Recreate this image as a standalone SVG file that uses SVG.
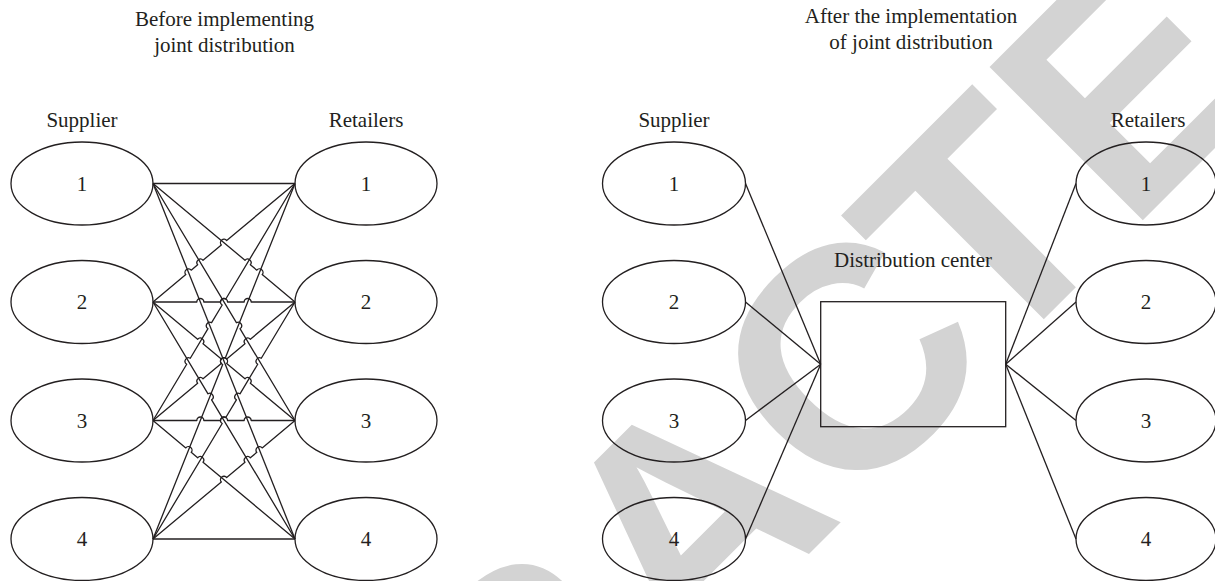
<svg xmlns="http://www.w3.org/2000/svg" width="1215" height="581" viewBox="0 0 1215 581">
  <style>
    .bg { fill: #ffffff; }
    .wm { fill: #d3d3d3; font-family: "Liberation Sans", Arial, sans-serif; font-weight: bold; font-size: 315px; }
    .node { fill: none; stroke: #231f20; stroke-width: 1.3; }
    .edge { fill: none; stroke: #231f20; stroke-width: 1.3; stroke-linejoin: round; }
    .lbl { fill: #231f20; font-family: "Liberation Serif", "Times New Roman", serif; font-size: 21px; text-anchor: middle; }
  </style>

  <rect class="bg" x="0" y="0" width="1215" height="581"/>

  <!-- diagonal stamp behind the drawing (glyphs placed along the rotated baseline) -->
  <text class="wm" transform="rotate(-45)" y="963.8" x="-853.5 -626.1 -416 -223.5 6 231 438.8 631.3 841.4">RETRACTED</text>

  <!-- headings -->
  <g id="titles">
    <text class="lbl" x="224.5" y="26">Before implementing</text>
    <text class="lbl" x="224.5" y="51.5">joint distribution</text>
    <text class="lbl" x="911" y="23">After the implementation</text>
    <text class="lbl" x="911" y="48.5">of joint distribution</text>
    <text class="lbl" x="82" y="126.7">Supplier</text>
    <text class="lbl" x="366" y="126.7">Retailers</text>
    <text class="lbl" x="674" y="126.7">Supplier</text>
    <text class="lbl" x="1148" y="126.7">Retailers</text>
  </g>

  <!-- connectors: every supplier to every retailer (with line jumps), and via the centre -->
  <g id="connectors">
    <path class="edge" d="M153,183.5 L295,183.5"/>
    <path class="edge" d="M153,183.5 L244.98,260.26 A3.5,3.5 0 0 1 250.35,264.74 L256.81,270.13 A3.5,3.5 0 0 1 262.19,274.62 L295,302"/>
    <path class="edge" d="M153,183.5 L236.4,322.7 A3.5,3.5 0 0 1 240,328.7 L295,420.5"/>
    <path class="edge" d="M153,183.5 L295,539"/>

    <path class="edge" d="M153,302 L185.81,274.62 A3.5,3.5 0 0 1 191.19,270.13 L197.65,264.74 A3.5,3.5 0 0 1 203.02,260.26 L221.31,244.99 A3.5,3.5 0 0 1 226.69,240.51 L295,183.5"/>
    <path class="edge" d="M153,302 L196.83,302 A3.5,3.5 0 0 1 203.83,302 L220.5,302 A3.5,3.5 0 0 1 227.5,302 L244.17,302 A3.5,3.5 0 0 1 251.17,302 L295,302"/>
    <path class="edge" d="M153,302 L197.65,339.26 A3.5,3.5 0 0 1 203.02,343.74 L221.31,359.01 A3.5,3.5 0 0 1 226.69,363.49 L244.98,378.76 A3.5,3.5 0 0 1 250.35,383.24 L295,420.5"/>
    <path class="edge" d="M153,302 L208,393.8 A3.5,3.5 0 0 1 211.6,399.8 L295,539"/>

    <path class="edge" d="M153,420.5 L186.7,364.25 A3.5,3.5 0 0 1 190.3,358.25 L208,328.7 A3.5,3.5 0 0 1 211.6,322.7 L222.2,305 A3.5,3.5 0 0 1 225.8,299 L295,183.5"/>
    <path class="edge" d="M153,420.5 L197.65,383.24 A3.5,3.5 0 0 1 203.02,378.76 L221.31,363.49 A3.5,3.5 0 0 1 226.69,359.01 L244.98,343.74 A3.5,3.5 0 0 1 250.35,339.26 L295,302"/>
    <path class="edge" d="M153,420.5 L196.83,420.5 A3.5,3.5 0 0 1 203.83,420.5 L220.5,420.5 A3.5,3.5 0 0 1 227.5,420.5 L244.17,420.5 A3.5,3.5 0 0 1 251.17,420.5 L295,420.5"/>
    <path class="edge" d="M153,420.5 L185.81,447.88 A3.5,3.5 0 0 1 191.19,452.37 L197.65,457.76 A3.5,3.5 0 0 1 203.02,462.24 L295,539"/>

    <path class="edge" d="M153,539 L222.7,364.5 A3.5,3.5 0 0 1 225.3,358 L295,183.5"/>
    <path class="edge" d="M153,539 L222.2,423.5 A3.5,3.5 0 0 1 225.8,417.5 L236.4,399.8 A3.5,3.5 0 0 1 240,393.8 L257.7,364.25 A3.5,3.5 0 0 1 261.3,358.25 L295,302"/>
    <path class="edge" d="M153,539 L221.31,481.99 A3.5,3.5 0 0 1 226.69,477.51 L244.98,462.24 A3.5,3.5 0 0 1 250.35,457.76 L256.81,452.37 A3.5,3.5 0 0 1 262.19,447.88 L295,420.5"/>
    <path class="edge" d="M153,539 L295,539"/>

    <path class="edge" d="M745.5,183.5 L820.7,364.2"/>
    <path class="edge" d="M745.5,302 L820.7,364.2"/>
    <path class="edge" d="M745.5,420.5 L820.7,364.2"/>
    <path class="edge" d="M745.5,539 L820.7,364.2"/>
    <path class="edge" d="M1005.7,364.2 L1076,183.5"/>
    <path class="edge" d="M1005.7,364.2 L1076,302"/>
    <path class="edge" d="M1005.7,364.2 L1076,420.5"/>
    <path class="edge" d="M1005.7,364.2 L1076,539"/>
  </g>

  <!-- before: suppliers -->
  <g id="before-supplier-1"><ellipse class="node" cx="82" cy="183.5" rx="71" ry="41.5"/><text class="lbl" x="82" y="190.5">1</text></g>
  <g id="before-supplier-2"><ellipse class="node" cx="82" cy="302" rx="71" ry="41.5"/><text class="lbl" x="82" y="309">2</text></g>
  <g id="before-supplier-3"><ellipse class="node" cx="82" cy="420.5" rx="71" ry="41.5"/><text class="lbl" x="82" y="427.5">3</text></g>
  <g id="before-supplier-4"><ellipse class="node" cx="82" cy="539" rx="71" ry="41.5"/><text class="lbl" x="82" y="546">4</text></g>

  <!-- before: retailers -->
  <g id="before-retailer-1"><ellipse class="node" cx="366" cy="183.5" rx="71" ry="41.5"/><text class="lbl" x="366" y="190.5">1</text></g>
  <g id="before-retailer-2"><ellipse class="node" cx="366" cy="302" rx="71" ry="41.5"/><text class="lbl" x="366" y="309">2</text></g>
  <g id="before-retailer-3"><ellipse class="node" cx="366" cy="420.5" rx="71" ry="41.5"/><text class="lbl" x="366" y="427.5">3</text></g>
  <g id="before-retailer-4"><ellipse class="node" cx="366" cy="539" rx="71" ry="41.5"/><text class="lbl" x="366" y="546">4</text></g>

  <!-- after: suppliers -->
  <g id="after-supplier-1"><ellipse class="node" cx="674" cy="183.5" rx="71.5" ry="41.5"/><text class="lbl" x="674" y="190.5">1</text></g>
  <g id="after-supplier-2"><ellipse class="node" cx="674" cy="302" rx="71.5" ry="41.5"/><text class="lbl" x="674" y="309">2</text></g>
  <g id="after-supplier-3"><ellipse class="node" cx="674" cy="420.5" rx="71.5" ry="41.5"/><text class="lbl" x="674" y="427.5">3</text></g>
  <g id="after-supplier-4"><ellipse class="node" cx="674" cy="539" rx="71.5" ry="41.5"/><text class="lbl" x="674" y="546">4</text></g>

  <!-- after: distribution centre -->
  <g id="distribution-center">
    <text class="lbl" x="913" y="267.3">Distribution center</text>
    <rect class="node" x="820.7" y="301.7" width="185" height="125"/>
  </g>

  <!-- after: retailers -->
  <g id="after-retailer-1"><ellipse class="node" cx="1146" cy="183.5" rx="70" ry="41.5"/><text class="lbl" x="1146" y="190.5">1</text></g>
  <g id="after-retailer-2"><ellipse class="node" cx="1146" cy="302" rx="70" ry="41.5"/><text class="lbl" x="1146" y="309">2</text></g>
  <g id="after-retailer-3"><ellipse class="node" cx="1146" cy="420.5" rx="70" ry="41.5"/><text class="lbl" x="1146" y="427.5">3</text></g>
  <g id="after-retailer-4"><ellipse class="node" cx="1146" cy="539" rx="70" ry="41.5"/><text class="lbl" x="1146" y="546">4</text></g>
</svg>
